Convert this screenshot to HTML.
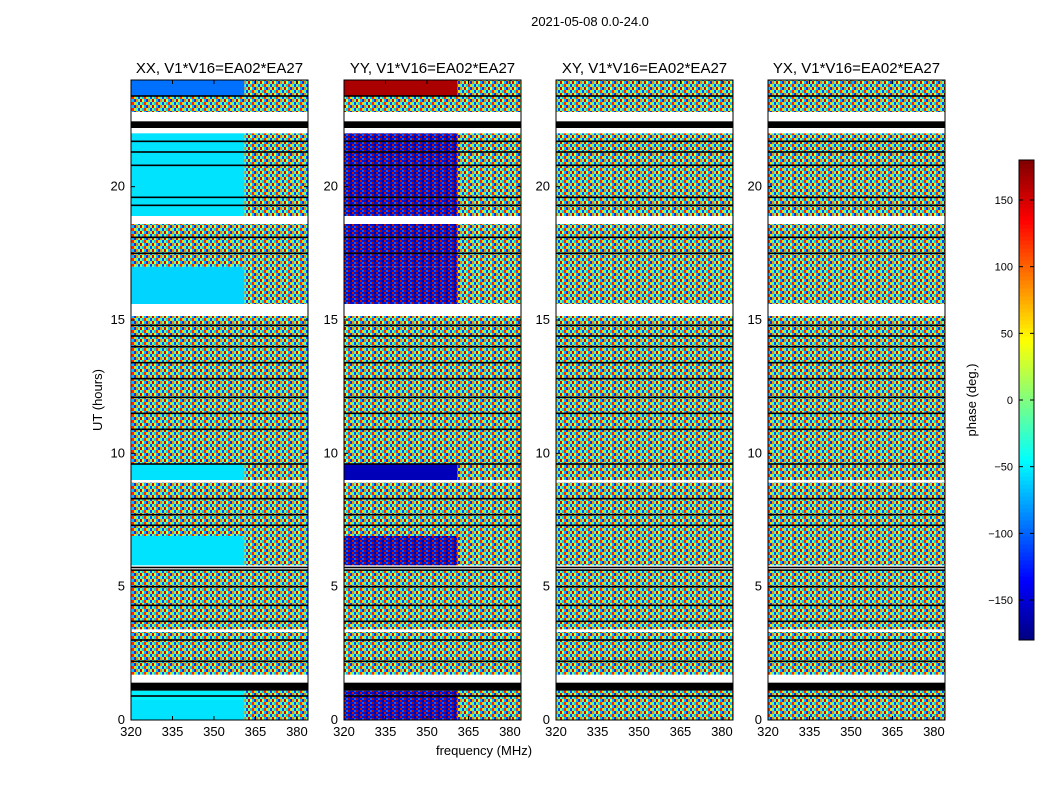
<!DOCTYPE html>
<html><head><meta charset="utf-8">
<style>
body{margin:0;background:#fff;}
svg{display:block;font-family:"Liberation Sans","DejaVu Sans",sans-serif;}
</style></head>
<body>
<svg id="fig" width="1050" height="800" viewBox="0 0 1050 800">
<defs>
<pattern id="noise" patternUnits="userSpaceOnUse" width="12" height="6">
<rect x="0" y="0" width="2" height="3" fill="#ff2000"/><rect x="2" y="0" width="2" height="3" fill="#ffd800"/>
<rect x="4" y="0" width="2" height="3" fill="#30ffd0"/><rect x="6" y="0" width="2" height="3" fill="#0040ff"/>
<rect x="8" y="0" width="2" height="3" fill="#80ff70"/><rect x="10" y="0" width="2" height="3" fill="#00c0ff"/>
<rect x="0" y="3" width="2" height="3" fill="#00c0ff"/><rect x="2" y="3" width="2" height="3" fill="#0030e0"/>
<rect x="4" y="3" width="2" height="3" fill="#ff8000"/><rect x="6" y="3" width="2" height="3" fill="#60ffa0"/>
<rect x="8" y="3" width="2" height="3" fill="#d00000"/><rect x="10" y="3" width="2" height="3" fill="#e8ff20"/>
</pattern>
<pattern id="rbnoise" patternUnits="userSpaceOnUse" width="8" height="4">
<rect x="0" y="0" width="8" height="4" fill="#0010d0"/>
<rect x="0" y="0" width="2" height="2" fill="#d01000"/><rect x="4" y="2" width="2" height="2" fill="#b00000"/>
<rect x="6" y="0" width="2" height="2" fill="#0000a0"/><rect x="2" y="2" width="2" height="2" fill="#1060ff"/>
</pattern>
</defs>
<text x="590" y="26" font-size="13" text-anchor="middle">2021-05-08 0.0-24.0</text>
<text x="102" y="400" font-size="13" text-anchor="middle" transform="rotate(-90 102 400)">UT (hours)</text>
<text x="484" y="755" font-size="13" text-anchor="middle">frequency (MHz)</text>
<g id="panels"></g>
<g id="cbar"></g>
<text x="976" y="400" font-size="13" text-anchor="middle" transform="rotate(-90 976 400)">phase (deg.)</text>
</svg>
<script>
// ---- data ----
const panelTitles = ["XX, V1*V16=EA02*EA27","YY, V1*V16=EA02*EA27","XY, V1*V16=EA02*EA27","YX, V1*V16=EA02*EA27"];
const bandStarts = [0, 0.75, 1.7, 3.4, 5.8, 6.9, 9.0, 9.6, 10.9, 15.6, 17.0, 18.9, 22.8, 23.4];
const bandEnds   = [0.75, 1.1, 3.3, 5.6, 6.9, 8.9, 9.6, 10.9, 15.15, 17.0, 18.6, 22.0, 23.4, 24];
// left region (320-361 MHz) and right region (361-384 MHz) phase; null = fringe noise, "rb" = red/blue noise
const xxLeft  = [-55, -50, null, null, -55, null, -55, null, null, -60, null, -55, null, -95];
const xxRight = [null,null, null, null, null, null, null, null, null, null, null, null, null, null];
const yyLeft  = ["rb","rb", null, null, "rb", null, -160, null, null, "rb", "rb", "rb", null, 165];
const yyRight = [null,null, null, null, null, null, null, null, null, null, null, null, null, null];
const xyLeft  = [null,null,null,null,null,null,null,null,null,null,null,null,null,null];
const xyRight = [null,null,null,null,null,null,null,null,null,null,null,null,null,null];
const yxLeft  = [null,null,null,null,null,null,null,null,null,null,null,null,null,null];
const yxRight = [null,null,null,null,null,null,null,null,null,null,null,null,null,null];
const blackBlockStarts = [1.1, 22.2];
const blackBlockEnds   = [1.4, 22.45];
const blackLines = [0.9, 2.2, 3.0, 3.7, 4.3, 5.0, 5.62, 5.72, 7.3, 7.7, 8.3, 9.6, 10.9, 11.5, 12.1, 12.8, 13.4, 14.0, 14.4, 14.8, 17.5, 18.1, 19.3, 19.6, 20.8, 21.3, 21.7, 23.4];
const yTicks = [0, 5, 10, 15, 20];
const xTicks = [320, 335, 350, 365, 380];
const splitFreq = 361;
const cbTicks = [-150, -100, -50, 0, 50, 100, 150];
// ---- layout ----
const panelX = [131, 344, 556, 768], pw = 177, pTop = 80, pBot = 720;
const fMin = 320, fMax = 384, tMin = 0, tMax = 24;
const NS = "http://www.w3.org/2000/svg";
function yS(h){return pBot - (h - tMin) / (tMax - tMin) * (pBot - pTop);}
function jet(v){
  let t = (v + 180) / 360;
  const r = Math.min(Math.max(Math.min(4*t-1.5, -4*t+4.5),0),1);
  const g = Math.min(Math.max(Math.min(4*t-0.5, -4*t+3.5),0),1);
  const b = Math.min(Math.max(Math.min(4*t+0.5, -4*t+2.5),0),1);
  return `rgb(${Math.round(r*255)},${Math.round(g*255)},${Math.round(b*255)})`;
}
function fillFor(v){ if(v===null) return "url(#noise)"; if(v==="rb") return "url(#rbnoise)"; return jet(v); }
function mk(tag, attrs, parent){const e=document.createElementNS(NS,tag);for(const k in attrs)e.setAttribute(k,attrs[k]);parent.appendChild(e);return e;}
const leftData = [xxLeft, yyLeft, xyLeft, yxLeft], rightData = [xxRight, yyRight, xyRight, yxRight];
const panelsG = document.getElementById("panels");
panelX.forEach((px, p) => {
  const xS = f => px + (f - fMin) / (fMax - fMin) * pw;
  const g = mk("g", {}, panelsG);
  
  
  bandStarts.forEach((s, i) => {
    const y0 = yS(bandEnds[i]), y1 = yS(s);
    const a = mk("rect", {x: xS(fMin), y: y0, width: xS(splitFreq)-xS(fMin), height: y1-y0, fill: fillFor(leftData[p][i])}, g);
    
    
    const b = mk("rect", {x: xS(splitFreq), y: y0, width: xS(fMax)-xS(splitFreq), height: y1-y0, fill: fillFor(rightData[p][i])}, g);
    
    
  });
  blackBlockStarts.forEach((s, i) => {
    const y0 = yS(blackBlockEnds[i]), y1 = yS(s);
    const bb = mk("rect", {x: px, y: y0, width: pw, height: y1-y0, fill: "#000"}, g);
    
    
  });
  blackLines.forEach(h => {
    const l = mk("rect", {x: px, y: yS(h)-0.8, width: pw, height: 1.6, fill: "#000"}, g);
    
    
  });
  const fr = mk("rect", {x: px, y: pTop, width: pw, height: pBot-pTop, fill: "none", stroke: "#000", "stroke-width": 1}, g);
  
  
  const t = mk("text", {x: px + pw/2, y: 73, "font-size": 15, "text-anchor": "middle"}, g);
  t.textContent = panelTitles[p];
  
  
  yTicks.forEach(h => {
    mk("line", {x1: px, x2: px+4, y1: yS(h), y2: yS(h), stroke: "#000"}, g);
    mk("line", {x1: px+pw-4, x2: px+pw, y1: yS(h), y2: yS(h), stroke: "#000"}, g);
    const tl = mk("text", {x: px-6, y: yS(h)+4, "font-size": 13, "text-anchor": "end"}, g);
    tl.textContent = h;
    
    
  });
  xTicks.forEach(f => {
    mk("line", {x1: xS(f), x2: xS(f), y1: pBot, y2: pBot-4, stroke: "#000"}, g);
    mk("line", {x1: xS(f), x2: xS(f), y1: pTop, y2: pTop+4, stroke: "#000"}, g);
    const tl = mk("text", {x: xS(f), y: pBot+16, "font-size": 13, "text-anchor": "middle"}, g);
    tl.textContent = f;
    
    
  });
});
// colorbar
const cb = document.getElementById("cbar"), cx = 1019, cw = 15, ct = 160, cbot = 640;
const cyS = v => cbot - (v + 180) / 360 * (cbot - ct);
for (let k = 0; k < 120; k++) {
  const v0 = -180 + k*3;
  const r = mk("rect", {x: cx, y: cyS(v0+3), width: cw, height: cyS(v0)-cyS(v0+3)+0.5, fill: jet(v0+1.5)}, cb);
  
  
}
mk("rect", {x: cx, y: ct, width: cw, height: cbot-ct, fill: "none", stroke: "#000"}, cb);
cbTicks.forEach(v => {
  mk("line", {x1: cx, x2: cx+4, y1: cyS(v), y2: cyS(v), stroke: "#000"}, cb);
  mk("line", {x1: cx+cw-4, x2: cx+cw, y1: cyS(v), y2: cyS(v), stroke: "#000"}, cb);
  const tl = mk("text", {x: cx-6, y: cyS(v)+4, "font-size": 11, "text-anchor": "end"}, cb);
  tl.textContent = v < 0 ? "\u2212" + Math.abs(v) : v;
  
  
});
</script>
</body></html>
